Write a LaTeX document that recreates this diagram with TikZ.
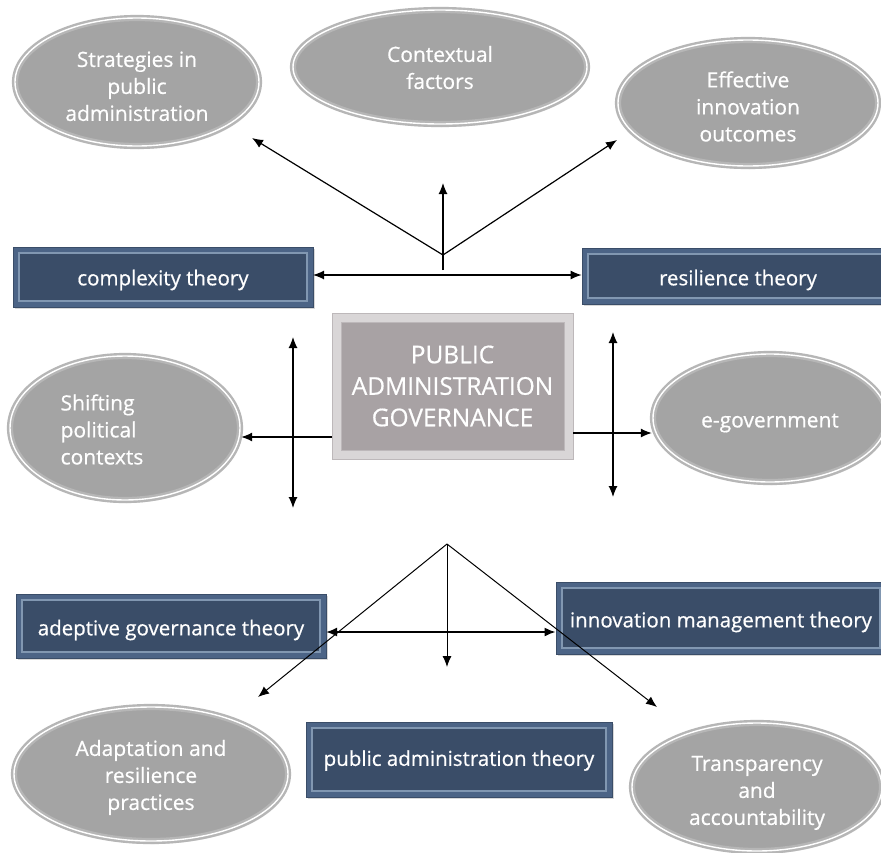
\documentclass[tikz,border=0pt]{standalone}
\usepackage{fontspec}
\setmainfont{Open Sans}[FakeBold=0.6]
\usetikzlibrary{shapes.geometric,arrows.meta,shadows}
\definecolor{ellA}{HTML}{A4A4A4}
\definecolor{ellB}{HTML}{A9A9A9}
\definecolor{ellRim}{HTML}{C8C8C8}
\definecolor{ellLine}{HTML}{B6B6B6}
\definecolor{boxOut}{HTML}{4C6486}
\definecolor{boxIn}{HTML}{3A4D68}
\definecolor{boxLine}{HTML}{8197B1}
\definecolor{paOut}{HTML}{D9D6D7}
\definecolor{paIn}{HTML}{A8A2A4}
\definecolor{paLine}{HTML}{BDB8BA}
\pgfdeclareradialshading{ellshade}{\pgfpoint{0bp}{0bp}}{color(0bp)=(ellA); color(36bp)=(ellA); color(46bp)=(ellB); color(50bp)=(ellRim)}
\newcommand\lbl[2]{\raisebox{#1}[\height][\depth]{\begin{tabular}{@{}c@{}}#2\end{tabular}}}
\newcommand\lbll[2]{\raisebox{#1}[\height][\depth]{\begin{tabular}{@{}l@{}}#2\end{tabular}}}
\newcommand\lbox[2]{\raisebox{#1}[\height][\depth]{#2}}
\tikzset{
  ell/.style={ellipse, shading=ellshade, draw=ellLine, line width=2.4pt, double=white, double distance=1.4pt,
    text=white, align=center, inner sep=0pt, font=\fontsize{21}{27}\selectfont,
    drop shadow={opacity=0.3, shadow xshift=1.5pt, shadow yshift=-3pt}},
  tbox/.style={rectangle, fill=boxOut, draw=boxIn, line width=0.8pt, text=white, inner sep=0pt,
    font=\fontsize{20.5}{24}\selectfont,
    drop shadow={opacity=0.3, shadow xshift=1.5pt, shadow yshift=-2pt},
    path picture={
      \fill[boxIn] ([shift={(6pt,-6pt)}]path picture bounding box.north west) rectangle ([shift={(-6pt,6pt)}]path picture bounding box.south east);
      \draw[boxLine, line width=1.3pt] ([shift={(6pt,-6pt)}]path picture bounding box.north west) rectangle ([shift={(-6pt,6pt)}]path picture bounding box.south east);
    }},
  pabox/.style={rectangle, fill=paOut, draw=paLine, line width=1pt, text=white, inner sep=0pt, align=center,
    font=\fontsize{24.5}{31.5}\selectfont,
    path picture={
      \fill[paIn] ([shift={(9pt,-9pt)}]path picture bounding box.north west) rectangle ([shift={(-9pt,9pt)}]path picture bounding box.south east);
      \draw[paLine, line width=1pt] ([shift={(9pt,-9pt)}]path picture bounding box.north west) rectangle ([shift={(-9pt,9pt)}]path picture bounding box.south east);
    }},
  conn/.style={line width=1.2pt, black},
  tip/.style={-{Latex[length=11pt,width=9pt]}},
  tips/.style={{Latex[length=11pt,width=9pt]}-{Latex[length=11pt,width=9pt]}}
}
\begin{document}
\begin{tikzpicture}[x=1pt,y=-1pt]
\useasboundingbox[fill=white] (0,0) rectangle (881,852);

% ellipses
\node[ell, minimum width=244pt, minimum height=128pt] (strat) at (137,82) {\lbl{-6.5pt}{Strategies in\\public\\administration}};
\node[ell, minimum width=294pt, minimum height=114pt] (ctx) at (440,67) {\lbl{-3pt}{Contextual\\factors}};
\node[ell, minimum width=260pt, minimum height=126pt] (eff) at (748,103) {\lbl{-6pt}{Effective\\innovation\\outcomes}};
\node[ell, minimum width=230pt, minimum height=144pt] (shift) at (125,428) {\hspace*{-46pt}\lbll{-4pt}{Shifting\\political\\contexts}};
\node[ell, minimum width=234pt, minimum height=128pt] (egov) at (770,418) {\lbl{-4pt}{e-government}};
\node[ell, minimum width=274pt, minimum height=134pt] (adapt) at (151,774) {\lbl{-3.5pt}{Adaptation and\\resilience\\practices}};
\node[ell, minimum width=250pt, minimum height=128pt] (transp) at (757,787) {\lbl{-5.5pt}{Transparency\\and\\accountability}};

% theory boxes
\node[tbox, minimum width=300pt, minimum height=60pt] (cplx) at (163,277) {\lbox{-3pt}{complexity theory}};
\node[tbox, minimum width=312pt, minimum height=56pt] (resil) at (738,276) {\lbox{-4pt}{resilience theory}};
\node[pabox, minimum width=241pt, minimum height=146pt] (pa) at (452.5,386) {PUBLIC\\ADMINISTRATION\\GOVERNANCE};
\node[tbox, minimum width=310pt, minimum height=64pt] (adept) at (171,626) {\lbox{-4pt}{adeptive governance theory}};
\node[tbox, minimum width=330pt, minimum height=72pt] (innov) at (721,618) {\lbox{-4pt}{innovation management theory}};
\node[tbox, minimum width=306pt, minimum height=75pt] (pat) at (459,759.5) {\lbox{-1pt}{public administration theory}};

% top connectors
\coordinate (hubT) at (443,255);
\coordinate (tStrat) at (252,138);
\coordinate (tEff) at (617,140);
\coordinate (vTb) at (443,270);
\coordinate (vTt) at (443,183);
\draw[conn,tip] (hubT) -- (tStrat);
\draw[conn,tip] (hubT) -- (tEff);
\draw[conn,tip] (vTb) -- (vTt);
\coordinate (hT) at (313,275);
\draw[conn,tips] (hT) -- (hT -| resil.west);

% middle connectors
\coordinate (vLt) at (293,337);
\coordinate (vLb) at (293,508);
\draw[conn,tips] (vLt) -- (vLb);
\coordinate (paL) at (332,437);
\draw[conn,tip] (paL) -- (paL -| shift.east);
\coordinate (vRt) at (613,332);
\coordinate (vRb) at (613,497);
\draw[conn,tips] (vRt) -- (vRb);
\coordinate (paR) at (573,433);
\draw[conn,tip] (paR) -- (paR -| egov.west);

% bottom connectors
\coordinate (apex) at (447,544);
\coordinate (tAd) at (258,697);
\coordinate (tTr) at (657,707);
\coordinate (tMid) at (447,667);
\draw[conn,tip,line width=1pt] (apex) -- (tAd);
\draw[conn,tip,line width=1pt] (apex) -- (tTr);
\draw[conn,tip,line width=1pt] (apex) -- (tMid);
\coordinate (hB) at (326,632);
\draw[conn,tips,line width=1.8pt] (hB) -- (hB -| innov.west);
\end{tikzpicture}
\end{document}
